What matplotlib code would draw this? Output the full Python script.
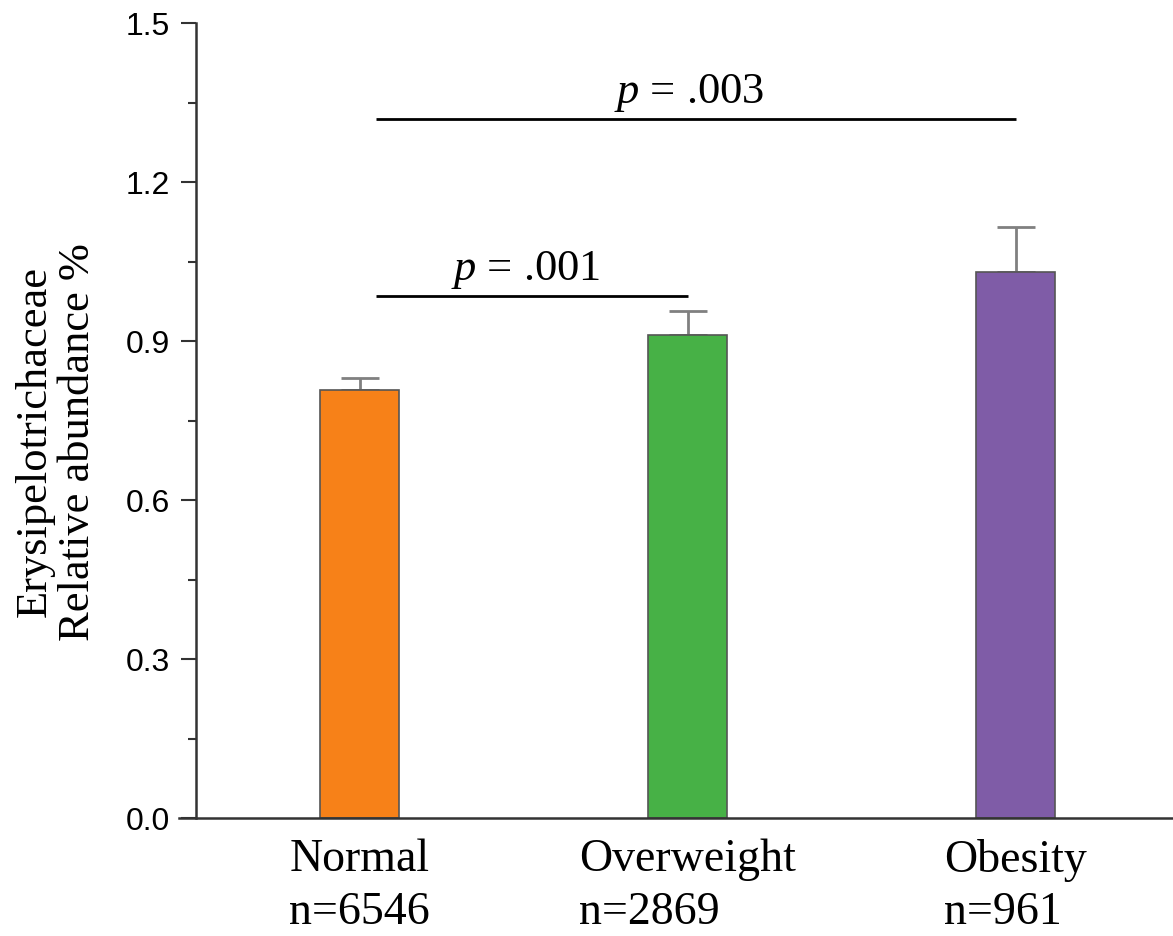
import matplotlib
matplotlib.use("Agg")
import matplotlib.pyplot as plt
from matplotlib.ticker import MultipleLocator

groups = ["Normal\nn=6546", "Overweight\nn=2869", "Obesity\nn=961"]
means = [0.808, 0.912, 1.030]
errors = [0.023, 0.045, 0.085]
colors = ["#F78118", "#47B146", "#7F5CA7"]

# significance brackets: (start, end, height, label)
brackets = [(0.05, 1.0, 0.985, ".001"), (0.05, 2.0, 1.319, ".003")]

plt.rcParams["mathtext.fontset"] = "custom"
plt.rcParams["mathtext.rm"] = "Liberation Serif"
plt.rcParams["mathtext.it"] = "Liberation Serif:italic"

fig = plt.figure(figsize=(11.73, 9.36), dpi=100)
ax = fig.add_axes([0.167, 0.126, 0.833, 0.849])

x = list(range(len(groups)))
ax.bar(x, means, width=0.24, color=colors, edgecolor="#555555", linewidth=1.2, zorder=2)
ax.errorbar(x, means, yerr=[[0] * len(errors), errors], fmt="none",
            ecolor="#808080", elinewidth=2, capsize=14, capthick=2, zorder=1)

for x0, x1, y, lab in brackets:
    ax.plot([x0, x1], [y, y], color="black", lw=2, solid_capstyle="butt")
    ax.text((x0 + x1) / 2 - 0.02, y + 0.03, r"$p$ = " + lab, ha="center", va="baseline",
            family="Liberation Serif", fontsize=32)

ax.set_xlim(-0.5, 2.48)
ax.set_ylim(0, 1.5)
ax.yaxis.set_major_locator(MultipleLocator(0.3))
ax.yaxis.set_minor_locator(MultipleLocator(0.15))
ax.set_yticklabels([f"{v:.1f}" for v in ax.get_yticks()])

ax.set_xticks(x)
ax.set_xticklabels(groups, family="Liberation Serif", fontsize=33,
                   multialignment="left", linespacing=1.3)
ax.tick_params(axis="x", length=0, pad=15)
ax.tick_params(axis="y", which="major", length=11, width=1.5, pad=8,
               labelsize=23, color="#333333")
ax.tick_params(axis="y", which="minor", length=5.5, width=1.5, color="#333333")
for lab in ax.get_yticklabels():
    lab.set_family("Liberation Sans")

for s in ["top", "right"]:
    ax.spines[s].set_visible(False)
ax.spines["left"].set_linewidth(1.8)
ax.spines["left"].set_color("#333333")
ax.spines["bottom"].set_linewidth(1.8)
ax.spines["bottom"].set_color("#333333")
ax.spines["bottom"].set_bounds(-0.55, 2.48)

fig.text(0.048, 0.528, "Erysipelotrichaceae\nRelative abundance %", rotation=90,
         ha="center", va="center", family="Liberation Serif", fontsize=32,
         linespacing=1.1)

fig.savefig("out.png", dpi=100)
